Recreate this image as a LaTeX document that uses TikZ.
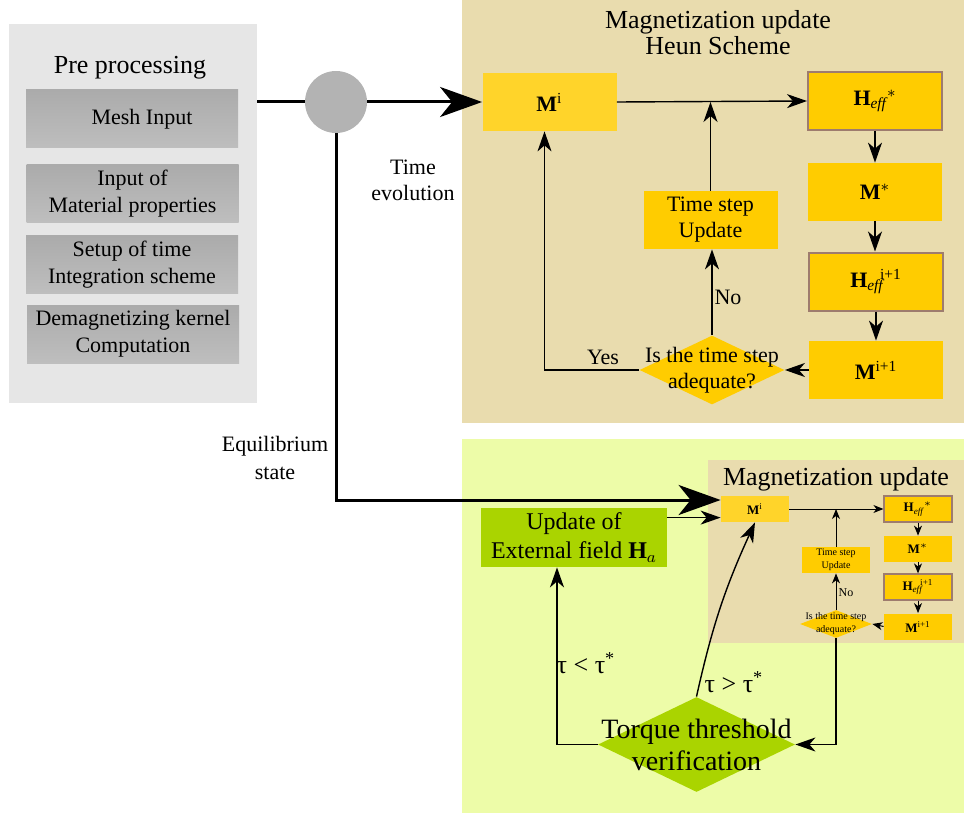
\documentclass[tikz,border=0pt]{standalone}
\usepackage{fontspec}
\setmainfont{Liberation Serif}
\usepackage{amsmath}
\usepackage{tikz}
\usetikzlibrary{arrows.meta, shapes.geometric, positioning}

\definecolor{prepanel}{HTML}{E6E6E6}
\definecolor{pretop}{HTML}{ABABAB}
\definecolor{prebot}{HTML}{BEBEBE}
\definecolor{heunpanel}{HTML}{E9DCAE}
\definecolor{torqpanel}{HTML}{EDFCA8}
\definecolor{magyellow}{HTML}{FFCC00}
\definecolor{magstart}{HTML}{FFD42A}
\definecolor{heffedge}{HTML}{9E7C6E}
\definecolor{fieldgreen}{HTML}{AAD400}
\definecolor{circgray}{HTML}{B3B3B3}

\newcommand{\fsz}[2]{\fontsize{#1}{#2}\selectfont}

\begin{document}
\begin{tikzpicture}[x=0.5pt, y=-0.5pt,
	prestep/.style={rectangle, top color=pretop, bottom color=prebot, minimum width=106pt, minimum height=29pt, inner sep=0pt, align=center, font=\fsz{11}{13.5}},
	magbox/.style={rectangle, fill=magyellow, minimum width=67pt, minimum height=29pt, inner sep=0pt, align=center, font=\fsz{11}{13}},
	heffbox/.style={magbox, draw=heffedge, line width=1pt},
	smallbox/.style={magbox, minimum width=34pt, minimum height=13pt, font=\fsz{6.5}{7}},
	smallheff/.style={smallbox, draw=heffedge, line width=0.6pt},
	qdiam/.style={diamond, fill=magyellow, inner sep=0pt, aspect=2},
	txt/.style={align=center, inner sep=0pt},
	bigtip/.style={line width=1.5pt, -{Stealth[length=21pt, width=15pt, inset=6pt]}},
	medtip/.style={line width=0.7pt, -{Stealth[length=10pt, width=7pt, inset=3pt]}},
	smalltip/.style={line width=0.5pt, -{Stealth[length=5pt, width=4pt, inset=1.5pt]}}
	]
	
	\useasboundingbox (0,0) rectangle (964,813);
	
	%// panels
	\fill[heunpanel] (462,0) rectangle (964,423);
	\fill[torqpanel] (462,439) rectangle (964,813);
	\fill[heunpanel] (708,460) rectangle (964,643);
	
	%// pre processing
	\node[rectangle, fill=prepanel, minimum width=124pt, minimum height=189.5pt, inner sep=0pt] (prepanel) at (133,213.5) {};
	\node[txt, font=\fsz{13}{15}] (pretitle) at (130,68) {Pre processing};
	\node[prestep] (mesh) at (132,119) {\hspace{10pt}Mesh Input};
	\node[prestep] (material) at (132.5,193.5) {Input of\\Material properties};
	\node[prestep] (setup) at (132,264.5) {Setup of time\\Integration scheme};
	\node[prestep] (demag) at (133,334) {Demagnetizing kernel\\Computation};
	
	\node[circle, fill=circgray, minimum size=31pt, inner sep=0pt] (circ) at (336,102) {};
	\node[txt, font=\fsz{11}{13}] (timeevo) at (413,180) {Time\\evolution};
	\node[txt, font=\fsz{11}{14}] (equil) at (275,458) {Equilibrium\\state};
	
	%// heun scheme
	\node[txt, font=\fsz{13}{13}] (heuntitle) at (718,33) {Magnetization update\\Heun Scheme};
	\node[magbox, fill=magstart] (mi) at (549.5,102) {\textbf{M}\textsuperscript{i}};
	\node[heffbox] (heffs) at (875,101) {$\textbf{H}_{\textit{eff}}{}^{*}$};
	\node[magbox] (mstar) at (875,192) {\textbf{M}$^{*}$};
	\node[heffbox] (heffn) at (876,281.5) {$\textbf{H}_{\textit{eff}}\!{}^{\text{i+1}}$};
	\node[magbox] (mnext) at (876,370) {\textbf{M}$^{\text{i+1}}$};
	\node[magbox] (tsu) at (710.5,220) {Time step\\Update};
	\node[qdiam, minimum width=72.5pt, minimum height=34.5pt] (chk) at (712,370) {};
	\node[txt, font=\fsz{11}{13}] (chktext) at (chk) {Is the time step\\adequate?};
	\node[txt, font=\fsz{11}{13}] (yes) at (603,357) {Yes};
	\node[txt, font=\fsz{11}{13}] (no) at (728,297) {No};
	
	%// torque part
	\node[txt, font=\fsz{13}{15}] (smalltitle) at (836,479) {Magnetization update};
	\node[smallbox, fill=magstart] (mi2) at (755,509) {\textbf{M}\textsuperscript{i}};
	\node[smallheff] (heffs2) at (918,509) {$\textbf{H}_{\textit{eff}}{}^{*}$};
	\node[smallbox] (mstar2) at (918,549) {\textbf{M}$^{*}$};
	\node[smallheff] (heffn2) at (918,587) {$\textbf{H}_{\textit{eff}}\!{}^{\text{i+1}}$};
	\node[smallbox] (mnext2) at (918,626.5) {\textbf{M}$^{\text{i+1}}$};
	\node[smallbox, font=\fsz{5}{6.5}] (tsu2) at (836,560) {Time step\\Update};
	\node[qdiam, minimum width=36pt, minimum height=14pt] (chk2) at (836,624) {};
	\node[txt, font=\fsz{5}{6.5}] (chk2text) at (chk2) {Is the time step\\adequate?};
	\node[txt, font=\fsz{6}{7}] (no2) at (846,593) {No};
	
	\node[rectangle, fill=fieldgreen, minimum width=93pt, minimum height=29.5pt, inner sep=0pt, align=center, font=\fsz{12}{14.5}] (upd) at (574,537.5) {Update of\\External field $\textbf{H}_{a}$};
	\node[diamond, fill=fieldgreen, minimum width=98.5pt, minimum height=47.5pt, inner sep=0pt, aspect=2] (tq) at (696.5,744.5) {};
	\node[txt, font=\fsz{14}{16}] (tqtext) at (tq) {Torque threshold\\verification};
	\node[txt, font=\fsz{13}{14}] (lower) at (586,663) {τ < τ\textsuperscript{*}};
	\node[txt, font=\fsz{13}{14}] (higher) at (734,682) {τ > τ\textsuperscript{*}};
	
	%// connectors
	\draw[line width=1.5pt] (prepanel.east |- circ.west) -- (circ.west);
	\draw[bigtip] (circ.east) -- (mi.west);
	\draw[bigtip] (circ.south) |- ([yshift=4.5pt]mi2.west);
	
	\draw[medtip] (mi.east) -- (heffs.west);
	\draw[medtip] (heffs.south) -- (heffs.south |- mstar.north);
	\draw[medtip] (mstar.south) -- (mstar.south |- heffn.north);
	\draw[medtip] (heffn.south) -- (heffn.south |- mnext.north);
	\draw[medtip] (mnext.west) -- (chk.east);
	\draw[medtip] (chk.north) -- (chk.north |- tsu.south);
	\draw[medtip] (tsu.north) -- (tsu.north |- mi.east);
	\draw[medtip] (chk.west) -| ([xshift=-2.5pt]mi.south);
	
	\draw[smalltip] (mi2.east) -- (heffs2.west);
	\draw[smalltip] (heffs2.south) -- (mstar2.north);
	\draw[smalltip] (mstar2.south) -- (heffn2.north);
	\draw[smalltip] (heffn2.south) -- (mnext2.north);
	\draw[smalltip] (mnext2.west) -- (chk2.east);
	\draw[smalltip] (chk2.north) -- (tsu2.south);
	\draw[smalltip] (tsu2.north) -- (tsu2.north |- mi2.east);
	
	\draw[medtip] ([yshift=-5pt]upd.north east) -- ([yshift=-5pt]upd.north east -| mi2.west);
	\draw[medtip] (chk2.south) |- (tq.east);
	\draw[medtip] (tq.west) -| ([xshift=-8.5pt]upd.south);
	\draw[medtip] (tq.north) to[bend left=6] (mi2.south);
	
\end{tikzpicture}
\end{document}
